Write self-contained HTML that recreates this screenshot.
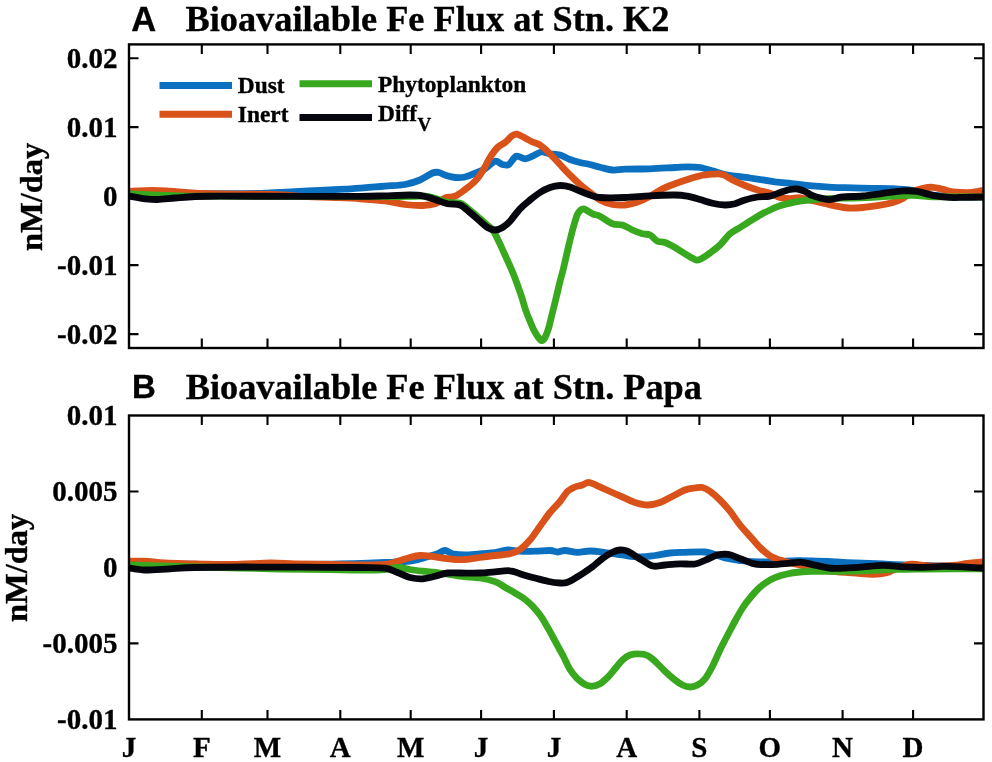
<!DOCTYPE html>
<html lang="en"><head><meta charset="utf-8"><title>Bioavailable Fe Flux</title>
<style>
html,body{margin:0;padding:0;background:#fff}
svg{display:block;will-change:transform}
text{font-family:"Liberation Serif","Times New Roman",serif;font-weight:bold;fill:#000;stroke:#000;stroke-width:.35px}
.tk{font-size:29px}
.tt{font-size:36.3px}
.pl{font-family:"Liberation Sans",Arial,sans-serif;font-size:34.5px}
.yl{font-size:32.5px}
.lg{font-size:23.4px}
</style></head><body>
<svg width="992" height="762" viewBox="0 0 992 762">
<rect width="992" height="762" fill="#fff"/>
<path d="M129.0,193.5C135.8,193.5 154.8,193.5 170.0,193.5C185.2,193.5 205.5,193.7 220.0,193.7C234.5,193.7 248.7,193.7 257.0,193.5C265.3,193.3 263.7,193.1 270.0,192.8C276.3,192.5 286.7,192.0 295.0,191.6C303.3,191.2 311.7,190.8 320.0,190.4C328.3,190.0 338.3,189.5 345.0,189.1C351.7,188.7 353.3,188.7 360.0,188.2C366.7,187.7 377.5,186.9 385.0,186.2C392.5,185.6 399.2,185.5 405.0,184.5C410.8,183.5 415.4,181.9 420.0,180.0C424.6,178.1 429.4,174.2 432.5,173.0C435.6,171.8 436.5,172.1 438.8,172.5C441.0,172.9 443.5,174.7 446.2,175.5C449.0,176.3 451.9,177.2 455.0,177.5C458.1,177.8 461.7,177.7 465.0,177.0C468.3,176.3 471.7,174.6 475.0,173.2C478.3,171.9 481.7,170.8 485.0,168.8C488.3,166.8 492.1,162.0 495.0,161.2C497.9,160.5 500.2,164.0 502.5,164.5C504.8,165.0 506.5,165.9 508.8,164.5C511.0,163.1 513.5,157.2 516.2,156.2C519.0,155.3 522.3,158.8 525.0,158.8C527.7,158.8 529.8,157.4 532.5,156.2C535.2,155.1 538.3,152.4 541.2,152.0C544.2,151.6 546.9,153.2 550.0,153.8C553.1,154.2 556.7,154.0 560.0,155.0C563.3,156.0 566.7,158.2 570.0,159.5C573.3,160.8 576.7,161.7 580.0,162.5C583.3,163.3 586.7,163.7 590.0,164.5C593.3,165.3 596.2,166.3 600.0,167.2C603.8,168.1 608.3,169.7 612.5,170.0C616.7,170.3 618.8,169.5 625.0,169.2C631.2,169.0 641.7,169.0 650.0,168.8C658.3,168.5 668.8,167.8 675.0,167.5C681.2,167.2 683.3,166.8 687.5,166.8C691.7,166.8 695.8,166.8 700.0,167.5C704.2,168.2 708.3,169.6 712.5,170.8C716.7,171.9 718.8,173.3 725.0,174.5C731.2,175.7 741.7,176.8 750.0,178.0C758.3,179.2 768.0,180.8 775.0,181.8C782.0,182.7 785.8,182.9 792.0,183.6C798.2,184.3 805.3,185.3 812.0,185.9C818.7,186.5 825.2,187.0 832.0,187.3C838.8,187.6 845.7,187.7 852.5,187.9C859.3,188.1 865.9,188.2 872.6,188.3C879.3,188.4 886.1,188.3 892.8,188.7C899.5,189.1 907.6,189.8 913.0,190.6C918.4,191.4 921.7,192.7 925.0,193.5C928.3,194.3 928.3,194.7 933.0,195.2C937.7,195.7 944.7,196.2 953.0,196.5C961.3,196.8 978.0,196.8 983.0,196.8" fill="none" stroke="#0b70c0" stroke-width="6.8" stroke-linejoin="round" stroke-linecap="butt"/>
<path d="M129.0,191.4C132.9,191.2 145.7,190.3 152.5,190.3C159.3,190.3 162.9,190.7 170.0,191.2C177.1,191.7 186.7,192.8 195.0,193.2C203.3,193.6 209.6,193.7 220.0,193.9C230.4,194.1 247.1,194.0 257.5,194.2C267.9,194.4 274.2,194.6 282.5,195.0C290.8,195.4 298.8,196.2 307.5,196.6C316.2,197.0 326.2,197.1 335.0,197.5C343.8,197.9 351.7,198.2 360.0,198.8C368.3,199.4 377.5,200.0 385.0,200.9C392.5,201.8 398.8,203.7 405.0,204.5C411.2,205.3 417.5,205.6 422.5,205.5C427.5,205.4 431.2,205.0 435.0,203.8C438.8,202.5 441.7,199.2 445.0,198.0C448.3,196.8 451.7,197.7 455.0,196.2C458.3,194.8 461.7,192.0 465.0,189.5C468.3,187.0 472.1,184.3 475.0,181.2C477.9,178.2 480.0,175.2 482.5,171.2C485.0,167.3 487.5,161.5 490.0,157.5C492.5,153.5 495.0,150.0 497.5,147.5C500.0,145.0 502.5,144.5 505.0,142.5C507.5,140.5 510.4,136.9 512.5,135.5C514.6,134.1 515.4,133.8 517.5,134.2C519.6,134.7 522.5,136.7 525.0,138.0C527.5,139.3 530.0,140.8 532.5,142.0C535.0,143.2 537.1,143.0 540.0,145.0C542.9,147.0 546.7,150.5 550.0,153.8C553.3,157.0 556.7,161.0 560.0,164.5C563.3,168.0 566.7,171.7 570.0,175.0C573.3,178.3 576.7,181.6 580.0,184.5C583.3,187.4 586.7,189.9 590.0,192.5C593.3,195.1 596.2,198.0 600.0,200.0C603.8,202.0 608.3,203.7 612.5,204.5C616.7,205.3 620.8,205.4 625.0,205.0C629.2,204.6 633.3,203.5 637.5,202.0C641.7,200.5 645.8,198.5 650.0,196.2C654.2,194.0 658.3,190.8 662.5,188.8C666.7,186.7 670.8,185.3 675.0,183.8C679.2,182.2 683.3,180.8 687.5,179.5C691.7,178.2 695.8,176.6 700.0,175.8C704.2,174.9 708.8,174.5 712.5,174.2C716.2,174.0 719.2,173.5 722.5,174.5C725.8,175.5 728.8,178.2 732.5,180.0C736.2,181.8 740.8,183.8 745.0,185.5C749.2,187.2 753.3,188.7 757.5,190.0C761.7,191.3 766.2,192.0 770.0,193.2C773.8,194.5 776.7,196.6 780.0,197.5C783.3,198.4 786.7,198.5 790.0,198.6C793.3,198.7 796.3,197.5 800.0,197.8C803.7,198.1 807.8,199.6 812.0,200.5C816.2,201.4 820.8,202.5 825.0,203.5C829.2,204.5 833.6,205.7 837.5,206.4C841.4,207.2 844.3,207.8 848.5,208.0C852.7,208.2 857.6,207.9 862.6,207.5C867.6,207.1 873.7,206.2 878.7,205.4C883.7,204.6 888.8,203.6 892.8,202.4C896.8,201.2 899.5,200.2 902.9,198.4C906.3,196.6 909.6,193.0 913.0,191.3C916.4,189.6 919.7,189.0 923.0,188.3C926.3,187.6 929.7,187.1 933.0,187.3C936.3,187.5 939.7,188.7 943.0,189.4C946.3,190.2 948.9,191.3 953.0,191.8C957.1,192.3 963.3,192.6 967.4,192.6C971.5,192.6 974.9,192.0 977.5,191.6C980.1,191.2 982.1,190.4 983.0,190.2" fill="none" stroke="#d9521a" stroke-width="6.8" stroke-linejoin="round" stroke-linecap="butt"/>
<path d="M129.0,193.8C132.9,194.0 145.7,194.7 152.5,195.0C159.3,195.3 162.9,195.3 170.0,195.5C177.1,195.7 173.3,196.1 195.0,196.2C216.7,196.4 265.8,196.3 300.0,196.3C334.2,196.3 379.2,196.5 400.0,196.5C420.8,196.5 419.2,195.9 425.0,196.2C430.8,196.5 431.2,197.4 435.0,198.4C438.8,199.4 443.3,201.5 447.5,202.3C451.7,203.1 456.2,201.9 460.0,203.2C463.8,204.5 466.7,207.6 470.0,210.2C473.3,212.8 477.1,216.2 480.0,218.7C482.9,221.2 485.4,223.4 487.5,225.2C489.6,227.0 490.8,227.2 492.5,229.5C494.2,231.8 495.4,234.5 497.5,238.8C499.6,243.0 502.4,249.4 505.0,255.0C507.6,260.6 510.7,267.5 512.8,272.5C514.9,277.5 516.0,280.8 517.5,285.0C519.0,289.2 520.5,293.3 521.9,297.5C523.2,301.7 524.2,306.0 525.6,310.0C527.0,314.0 528.5,317.7 530.0,321.2C531.5,324.8 532.9,328.4 534.4,331.2C535.9,334.1 537.6,336.5 538.8,338.1C539.9,339.7 540.5,340.7 541.5,340.6C542.5,340.5 543.8,339.7 545.0,337.5C546.2,335.3 547.5,331.7 548.8,327.5C550.0,323.3 551.2,317.5 552.5,312.5C553.8,307.5 555.0,302.7 556.2,297.5C557.5,292.3 558.7,286.6 560.0,281.5C561.3,276.4 562.4,272.9 563.8,267.0C565.2,261.1 567.2,252.0 568.6,246.0C570.0,240.0 571.2,235.2 572.3,231.0C573.4,226.8 574.4,223.3 575.3,220.5C576.2,217.7 576.7,216.0 577.5,214.3C578.3,212.6 579.2,211.2 580.3,210.3C581.4,209.4 582.3,208.4 584.3,209.0C586.3,209.6 589.9,212.5 592.5,213.8C595.1,215.0 596.7,214.6 600.0,216.2C603.3,217.9 608.8,222.3 612.5,223.8C616.2,225.2 619.2,224.0 622.5,225.0C625.8,226.0 629.2,228.5 632.5,230.0C635.8,231.5 639.6,232.9 642.5,233.8C645.4,234.6 647.5,233.8 650.0,235.0C652.5,236.2 655.0,240.0 657.5,241.2C660.0,242.5 662.1,241.5 665.0,242.5C667.9,243.5 671.7,245.6 675.0,247.5C678.3,249.4 681.5,251.7 685.0,253.8C688.5,255.8 693.3,259.3 696.2,260.0C699.2,260.7 700.2,259.2 702.5,258.0C704.8,256.8 707.1,255.2 710.0,253.0C712.9,250.8 716.7,248.2 720.0,245.0C723.3,241.8 726.7,236.7 730.0,233.8C733.3,230.8 736.7,229.6 740.0,227.5C743.3,225.4 746.7,223.3 750.0,221.2C753.3,219.2 756.7,216.9 760.0,215.0C763.3,213.1 766.7,211.5 770.0,210.0C773.3,208.5 776.7,206.9 780.0,205.8C783.3,204.6 786.7,203.8 790.0,203.1C793.3,202.3 796.3,201.8 800.0,201.2C803.7,200.7 806.7,200.3 812.0,199.8C817.3,199.3 825.2,198.7 832.0,198.4C838.8,198.1 845.7,198.2 852.5,198.0C859.3,197.8 865.9,197.7 872.6,197.4C879.3,197.1 886.1,196.3 892.8,196.0C899.5,195.7 906.3,195.3 913.0,195.4C919.7,195.5 926.3,196.6 933.0,196.8C939.7,197.0 944.7,196.8 953.0,196.8C961.3,196.8 978.0,196.8 983.0,196.8" fill="none" stroke="#38a91e" stroke-width="6.8" stroke-linejoin="round" stroke-linecap="butt"/>
<path d="M129.0,196.2C131.7,196.7 140.2,198.2 145.0,198.8C149.8,199.3 152.5,199.6 157.5,199.5C162.5,199.4 168.8,198.5 175.0,198.0C181.2,197.5 187.5,196.8 195.0,196.5C202.5,196.2 202.5,196.3 220.0,196.2C237.5,196.2 276.7,196.3 300.0,196.3C323.3,196.3 345.8,196.5 360.0,196.4C374.2,196.3 376.7,196.0 385.0,195.8C393.3,195.5 403.8,195.0 410.0,195.0C416.2,195.0 418.3,195.0 422.5,195.8C426.7,196.5 430.8,198.2 435.0,199.5C439.2,200.8 443.3,202.8 447.5,203.8C451.7,204.7 456.2,203.5 460.0,205.0C463.8,206.5 466.7,209.8 470.0,212.5C473.3,215.2 477.1,218.8 480.0,221.2C482.9,223.8 485.0,226.0 487.5,227.5C490.0,229.0 492.5,230.0 495.0,230.0C497.5,230.0 500.0,229.0 502.5,227.5C505.0,226.0 507.1,224.4 510.0,221.2C512.9,218.1 516.7,212.3 520.0,208.8C523.3,205.2 526.7,202.7 530.0,200.0C533.3,197.3 536.7,194.6 540.0,192.5C543.3,190.4 546.7,188.7 550.0,187.5C553.3,186.3 556.7,185.6 560.0,185.5C563.3,185.4 566.7,186.0 570.0,187.0C573.3,188.0 576.7,189.9 580.0,191.2C583.3,192.6 586.7,194.0 590.0,195.0C593.3,196.0 594.2,197.1 600.0,197.5C605.8,197.9 616.7,197.8 625.0,197.5C633.3,197.2 641.7,196.2 650.0,195.8C658.3,195.3 668.8,194.9 675.0,195.0C681.2,195.1 683.3,195.5 687.5,196.2C691.7,197.0 695.8,198.3 700.0,199.5C704.2,200.7 708.3,202.3 712.5,203.2C716.7,204.2 721.2,204.9 725.0,205.0C728.8,205.1 731.7,204.6 735.0,203.8C738.3,202.9 741.2,201.1 745.0,200.0C748.8,198.9 753.3,197.6 757.5,197.0C761.7,196.4 766.2,197.0 770.0,196.2C773.8,195.5 776.7,193.6 780.0,192.5C783.3,191.4 787.1,190.1 790.0,189.5C792.9,188.9 795.0,188.7 797.5,189.0C800.0,189.3 802.6,190.4 805.0,191.5C807.4,192.6 809.2,194.2 812.0,195.4C814.8,196.6 819.0,197.7 822.0,198.4C825.0,199.1 826.6,199.8 830.0,199.6C833.4,199.4 837.0,197.6 842.4,197.0C847.8,196.4 855.9,196.6 862.6,196.0C869.3,195.4 876.0,194.2 882.7,193.3C889.4,192.5 897.2,191.2 902.9,190.9C908.6,190.6 912.0,190.6 917.0,191.3C922.0,192.1 927.7,194.4 933.0,195.4C938.3,196.4 944.0,197.1 949.0,197.4C954.0,197.7 957.3,197.5 963.0,197.4C968.7,197.3 979.7,197.1 983.0,197.0" fill="none" stroke="#06060f" stroke-width="6.8" stroke-linejoin="round" stroke-linecap="butt"/>
<rect x="129.0" y="44.4" width="854.5" height="303.6" fill="none" stroke="#000" stroke-width="2.4"/>
<path d="M201.8,44.4v9.5M201.8,348.0v-9.5M267.5,44.4v9.5M267.5,348.0v-9.5M340.3,44.4v9.5M340.3,348.0v-9.5M410.7,44.4v9.5M410.7,348.0v-9.5M481.1,44.4v9.5M481.1,348.0v-9.5M553.9,44.4v9.5M553.9,348.0v-9.5M626.7,44.4v9.5M626.7,348.0v-9.5M699.4,44.4v9.5M699.4,348.0v-9.5M769.9,44.4v9.5M769.9,348.0v-9.5M842.6,44.4v9.5M842.6,348.0v-9.5M913.1,44.4v9.5M913.1,348.0v-9.5M129.0,58.2h9.5M983.5,58.2h-9.5M129.0,127.1h9.5M983.5,127.1h-9.5M129.0,196.1h9.5M983.5,196.1h-9.5M129.0,265.1h9.5M983.5,265.1h-9.5M129.0,334.1h9.5M983.5,334.1h-9.5" stroke="#000" stroke-width="2.1" fill="none"/>
<text x="117.4" y="68.1" text-anchor="end" class="tk">0.02</text>
<text x="117.4" y="137.0" text-anchor="end" class="tk">0.01</text>
<text x="117.4" y="206.0" text-anchor="end" class="tk">0</text>
<text x="117.4" y="275.0" text-anchor="end" class="tk">-0.01</text>
<text x="117.4" y="344.0" text-anchor="end" class="tk">-0.02</text>
<path d="M129.0,564.0C140.8,564.0 171.5,564.2 200.0,564.3C228.5,564.3 276.7,564.3 300.0,564.3C323.3,564.2 328.7,564.2 340.0,564.0C351.3,563.8 360.5,563.5 368.0,563.2C375.5,563.0 378.0,562.8 385.0,562.5C392.0,562.2 403.3,562.1 410.0,561.2C416.7,560.4 420.4,558.8 425.0,557.5C429.6,556.2 434.2,554.9 437.5,553.8C440.8,552.6 442.5,550.5 445.0,550.5C447.5,550.5 449.2,553.0 452.5,553.8C455.8,554.5 460.4,555.0 465.0,555.0C469.6,555.0 475.0,554.2 480.0,553.8C485.0,553.3 490.4,553.1 495.0,552.5C499.6,551.9 503.3,550.2 507.5,550.0C511.7,549.8 515.4,551.0 520.0,551.2C524.6,551.5 530.0,551.4 535.0,551.2C540.0,551.1 546.2,550.4 550.0,550.5C553.8,550.6 555.0,552.0 557.5,552.0C560.0,552.0 561.7,550.5 565.0,550.5C568.3,550.5 573.3,552.2 577.5,552.3C581.7,552.4 585.4,551.0 590.0,551.0C594.6,551.0 599.6,551.8 605.0,552.5C610.4,553.2 616.7,554.2 622.5,555.0C628.3,555.8 634.6,556.9 640.0,557.0C645.4,557.1 650.0,556.2 655.0,555.5C660.0,554.8 665.0,553.5 670.0,553.0C675.0,552.5 679.2,552.5 685.0,552.3C690.8,552.1 700.0,551.6 705.0,552.0C710.0,552.4 711.7,553.5 715.0,554.5C718.3,555.5 720.8,557.0 725.0,558.0C729.2,559.0 734.2,559.8 740.0,560.5C745.8,561.2 751.3,562.0 760.0,562.0C768.7,562.0 783.3,561.0 792.0,560.8C800.7,560.6 804.7,560.8 812.0,561.0C819.3,561.2 827.6,561.6 836.0,562.0C844.4,562.4 854.7,562.9 862.5,563.2C870.3,563.5 876.0,563.7 882.7,564.0C889.5,564.3 893.5,564.5 903.0,564.8C912.5,565.1 926.7,565.7 940.0,566.0C953.3,566.3 975.8,566.4 983.0,566.5" fill="none" stroke="#0b70c0" stroke-width="6.8" stroke-linejoin="round" stroke-linecap="butt"/>
<path d="M129.0,561.2C131.7,561.2 139.0,561.0 145.0,561.2C151.0,561.5 156.7,562.6 165.0,563.0C173.3,563.4 183.8,563.5 195.0,563.8C206.2,564.0 220.0,564.6 232.5,564.5C245.0,564.4 259.6,563.1 270.0,563.0C280.4,562.9 284.6,563.5 295.0,563.8C305.4,564.0 321.7,564.3 332.5,564.5C343.3,564.7 351.2,565.0 360.0,565.0C368.8,565.0 378.8,565.1 385.0,564.5C391.2,563.9 393.3,562.4 397.5,561.2C401.7,560.1 406.2,558.5 410.0,557.5C413.8,556.5 416.7,555.7 420.0,555.5C423.3,555.3 426.2,555.8 430.0,556.2C433.8,556.7 438.3,557.5 442.5,558.0C446.7,558.5 451.2,559.2 455.0,559.5C458.8,559.8 460.8,559.8 465.0,559.5C469.2,559.2 475.0,558.2 480.0,557.5C485.0,556.8 490.0,556.1 495.0,555.5C500.0,554.9 505.8,554.8 510.0,553.8C514.2,552.8 516.7,551.8 520.0,549.5C523.3,547.2 526.7,543.9 530.0,540.0C533.3,536.1 536.7,530.8 540.0,526.2C543.3,521.7 546.7,516.6 550.0,512.5C553.3,508.4 557.1,505.0 560.0,501.5C562.9,498.0 565.0,493.8 567.5,491.4C570.0,489.0 572.5,488.1 575.0,487.0C577.5,485.9 580.2,485.8 582.5,485.0C584.8,484.2 586.2,482.2 588.8,482.3C591.2,482.4 594.0,484.3 597.5,485.8C601.0,487.3 605.8,489.6 610.0,491.5C614.2,493.4 618.3,495.2 622.5,497.0C626.7,498.8 630.8,501.2 635.0,502.5C639.2,503.8 643.3,505.0 647.5,505.0C651.7,505.0 655.8,504.0 660.0,502.5C664.2,501.0 668.3,498.3 672.5,496.2C676.7,494.2 681.2,491.4 685.0,490.0C688.8,488.6 692.1,488.4 695.0,488.0C697.9,487.6 700.0,487.0 702.5,487.5C705.0,488.0 707.1,489.2 710.0,491.2C712.9,493.3 716.7,496.7 720.0,500.0C723.3,503.3 726.7,507.1 730.0,511.2C733.3,515.4 736.7,520.8 740.0,525.0C743.3,529.2 746.7,532.5 750.0,536.2C753.3,540.0 756.7,544.2 760.0,547.5C763.3,550.8 766.7,553.7 770.0,555.8C773.3,557.8 776.7,558.8 780.0,560.0C783.3,561.2 786.7,562.2 790.0,563.0C793.3,563.8 796.3,564.1 800.0,565.0C803.7,565.9 806.7,567.3 812.0,568.4C817.3,569.5 824.2,570.6 832.0,571.4C839.8,572.2 851.7,572.9 858.5,573.4C865.3,573.9 867.9,574.5 872.6,574.4C877.3,574.3 882.8,573.8 886.8,572.8C890.8,571.8 893.1,569.8 896.8,568.4C900.5,567.0 905.3,565.0 909.0,564.4C912.7,563.8 915.0,564.5 919.0,564.8C923.0,565.1 927.3,566.1 933.0,566.2C938.7,566.3 947.6,565.9 953.3,565.4C959.0,564.9 962.4,564.1 967.4,563.5C972.4,562.9 980.4,562.2 983.0,562.0" fill="none" stroke="#d9521a" stroke-width="6.8" stroke-linejoin="round" stroke-linecap="butt"/>
<path d="M129.0,565.0C133.8,565.1 145.7,565.4 157.5,565.8C169.3,566.1 181.2,566.5 200.0,567.0C218.8,567.5 248.3,568.3 270.0,568.8C291.7,569.2 315.0,569.5 330.0,569.7C345.0,569.9 350.8,570.0 360.0,570.0C369.2,570.0 378.8,569.9 385.0,569.5C391.2,569.1 393.3,567.5 397.5,567.5C401.7,567.5 405.8,568.9 410.0,569.5C414.2,570.1 417.5,570.7 422.5,571.2C427.5,571.8 433.8,572.2 440.0,573.0C446.2,573.8 453.3,575.4 460.0,576.2C466.7,577.1 474.2,577.1 480.0,578.0C485.8,578.9 490.8,580.1 495.0,581.6C499.2,583.1 501.7,585.3 505.0,587.2C508.3,589.1 511.7,591.0 515.0,593.0C518.3,595.0 522.1,597.2 525.0,599.4C527.9,601.6 530.0,603.6 532.5,606.2C535.0,608.9 537.7,611.9 540.0,615.0C542.3,618.1 544.2,621.5 546.2,625.0C548.3,628.5 550.4,632.5 552.5,636.2C554.6,640.0 556.9,644.4 558.8,647.8C560.6,651.2 561.6,652.9 563.5,656.5C565.4,660.1 567.7,665.8 570.0,669.5C572.3,673.2 575.0,676.2 577.5,678.8C580.0,681.2 582.5,683.2 585.0,684.5C587.5,685.8 590.0,686.4 592.5,686.2C595.0,686.1 597.5,685.2 600.0,683.8C602.5,682.3 605.0,680.0 607.5,677.5C610.0,675.0 612.5,671.7 615.0,668.8C617.5,665.8 620.0,662.3 622.5,660.0C625.0,657.7 627.3,656.0 630.0,655.0C632.7,654.0 635.8,653.7 638.8,653.8C641.7,653.8 644.8,654.2 647.5,655.5C650.2,656.8 652.1,658.6 655.0,661.2C657.9,663.9 661.7,668.1 665.0,671.2C668.3,674.4 672.1,677.7 675.0,680.0C677.9,682.3 680.0,683.8 682.5,685.0C685.0,686.2 687.5,687.0 690.0,687.0C692.5,687.0 695.0,686.4 697.5,685.0C700.0,683.6 702.5,681.9 705.0,678.8C707.5,675.6 710.0,671.0 712.5,666.2C715.0,661.5 717.4,655.4 720.0,650.0C722.6,644.6 725.6,639.1 728.2,634.0C730.9,628.9 733.4,624.0 735.9,619.5C738.4,615.0 740.8,610.7 743.2,607.0C745.6,603.3 748.0,600.4 750.4,597.5C752.8,594.6 755.1,591.9 757.5,589.5C759.9,587.1 762.1,585.2 765.0,583.2C767.9,581.2 771.2,579.3 775.0,577.7C778.8,576.1 783.8,574.7 788.0,573.8C792.2,572.8 796.0,572.4 800.0,572.0C804.0,571.6 806.7,571.5 812.0,571.4C817.3,571.3 823.6,571.5 832.0,571.4C840.4,571.3 852.4,571.1 862.5,570.8C872.6,570.5 882.7,569.7 892.8,569.4C902.9,569.1 908.0,569.1 923.0,569.0C938.0,568.9 973.0,568.8 983.0,568.8" fill="none" stroke="#38a91e" stroke-width="6.8" stroke-linejoin="round" stroke-linecap="butt"/>
<path d="M129.0,568.0C131.7,568.3 138.2,569.9 145.0,570.0C151.8,570.1 161.7,569.2 170.0,568.8C178.3,568.3 182.5,567.8 195.0,567.5C207.5,567.2 227.5,567.0 245.0,567.0C262.5,567.0 280.8,567.1 300.0,567.2C319.2,567.3 345.8,567.3 360.0,567.5C374.2,567.7 378.8,567.4 385.0,568.2C391.2,569.1 393.3,571.0 397.5,572.5C401.7,574.0 405.8,576.5 410.0,577.5C414.2,578.5 418.3,579.0 422.5,578.8C426.7,578.5 430.8,577.2 435.0,576.2C439.2,575.3 443.3,573.5 447.5,573.0C451.7,572.5 454.6,573.0 460.0,573.0C465.4,573.0 474.2,573.2 480.0,573.0C485.8,572.8 490.0,572.1 495.0,571.8C500.0,571.4 505.8,570.4 510.0,570.8C514.2,571.1 515.8,572.5 520.0,573.8C524.2,575.0 530.4,576.8 535.0,578.0C539.6,579.2 543.3,580.4 547.5,581.2C551.7,582.1 556.7,582.8 560.0,583.0C563.3,583.2 564.6,583.3 567.5,582.3C570.4,581.3 574.6,578.5 577.5,576.8C580.4,575.1 582.5,573.7 585.0,572.0C587.5,570.3 589.6,569.0 592.5,566.8C595.4,564.5 599.2,560.9 602.5,558.5C605.8,556.1 609.6,553.7 612.5,552.3C615.4,550.9 617.5,550.2 620.0,550.0C622.5,549.8 624.4,549.9 627.5,551.2C630.6,552.6 635.2,556.0 638.5,558.0C641.8,560.0 644.9,562.1 647.5,563.5C650.1,564.9 651.1,566.0 654.0,566.2C656.9,566.5 660.7,565.4 665.0,565.0C669.3,564.6 675.0,563.9 680.0,563.8C685.0,563.6 690.7,564.7 695.0,564.0C699.3,563.3 702.3,561.3 706.0,559.8C709.7,558.3 714.2,555.9 717.0,555.0C719.8,554.1 720.3,554.3 722.5,554.3C724.7,554.2 726.9,553.9 730.0,554.7C733.1,555.5 737.3,557.6 741.0,559.0C744.7,560.4 749.2,562.4 752.0,563.3C754.8,564.2 754.1,564.1 757.5,564.3C760.9,564.5 767.1,564.8 772.5,564.6C777.9,564.4 785.1,563.6 790.0,563.2C794.9,562.8 797.7,561.9 802.0,562.3C806.3,562.7 810.7,564.4 816.0,565.4C821.3,566.4 826.9,568.1 834.0,568.4C841.1,568.7 850.4,567.9 858.5,567.4C866.6,566.9 875.3,565.5 882.7,565.4C890.1,565.3 896.3,566.5 903.0,566.8C909.7,567.1 916.3,567.5 923.0,567.4C929.7,567.3 936.3,566.5 943.0,566.4C949.7,566.3 956.3,566.5 963.0,566.8C969.7,567.1 979.7,567.8 983.0,568.0" fill="none" stroke="#06060f" stroke-width="6.8" stroke-linejoin="round" stroke-linecap="butt"/>
<rect x="129.0" y="415.5" width="854.5" height="303.9" fill="none" stroke="#000" stroke-width="2.4"/>
<path d="M201.8,415.5v9.5M201.8,719.4v-9.5M267.5,415.5v9.5M267.5,719.4v-9.5M340.3,415.5v9.5M340.3,719.4v-9.5M410.7,415.5v9.5M410.7,719.4v-9.5M481.1,415.5v9.5M481.1,719.4v-9.5M553.9,415.5v9.5M553.9,719.4v-9.5M626.7,415.5v9.5M626.7,719.4v-9.5M699.4,415.5v9.5M699.4,719.4v-9.5M769.9,415.5v9.5M769.9,719.4v-9.5M842.6,415.5v9.5M842.6,719.4v-9.5M913.1,415.5v9.5M913.1,719.4v-9.5M129.0,491.5h9.5M983.5,491.5h-9.5M129.0,567.45h9.5M983.5,567.45h-9.5M129.0,643.4h9.5M983.5,643.4h-9.5" stroke="#000" stroke-width="2.1" fill="none"/>
<text x="117.4" y="425.4" text-anchor="end" class="tk">0.01</text>
<text x="117.4" y="501.4" text-anchor="end" class="tk">0.005</text>
<text x="117.4" y="577.4" text-anchor="end" class="tk">0</text>
<text x="117.4" y="653.3" text-anchor="end" class="tk">-0.005</text>
<text x="117.4" y="729.3" text-anchor="end" class="tk">-0.01</text>
<text x="129.0" y="757.3" text-anchor="middle" class="tk">J</text>
<text x="201.8" y="757.3" text-anchor="middle" class="tk">F</text>
<text x="267.5" y="757.3" text-anchor="middle" class="tk">M</text>
<text x="340.3" y="757.3" text-anchor="middle" class="tk">A</text>
<text x="410.7" y="757.3" text-anchor="middle" class="tk">M</text>
<text x="481.1" y="757.3" text-anchor="middle" class="tk">J</text>
<text x="553.9" y="757.3" text-anchor="middle" class="tk">J</text>
<text x="626.7" y="757.3" text-anchor="middle" class="tk">A</text>
<text x="699.4" y="757.3" text-anchor="middle" class="tk">S</text>
<text x="769.9" y="757.3" text-anchor="middle" class="tk">O</text>
<text x="842.6" y="757.3" text-anchor="middle" class="tk">N</text>
<text x="913.1" y="757.3" text-anchor="middle" class="tk">D</text>
<text x="131.2" y="30.8" class="pl">A</text>
<text x="185.5" y="30.5" class="tt">Bioavailable Fe Flux at Stn. K2</text>
<text x="131.9" y="397.8" class="pl" style="font-size:33px">B</text>
<text x="185.7" y="399" class="tt">Bioavailable Fe Flux at Stn. Papa</text>
<text transform="translate(41.6,196.9) rotate(-90)" text-anchor="middle" class="yl">nM/day</text>
<text transform="translate(26.6,567.9) rotate(-90)" text-anchor="middle" class="yl">nM/day</text>
<path d="M159.5,85.5H232" stroke="#0b70c0" stroke-width="7"/>
<path d="M159.5,114.3H232" stroke="#d9521a" stroke-width="7"/>
<path d="M299.5,83.8H372" stroke="#38a91e" stroke-width="7"/>
<path d="M299.5,117.5H372" stroke="#06060f" stroke-width="7"/>
<text x="237.8" y="93" class="lg">Dust</text>
<text x="237.8" y="121.8" class="lg">Inert</text>
<text x="378" y="92" class="lg">Phytoplankton</text>
<text x="378" y="120.8" class="lg">Diff<tspan dx="0.4" dy="10.2" font-size="19">V</tspan></text>
</svg>
</body></html>
